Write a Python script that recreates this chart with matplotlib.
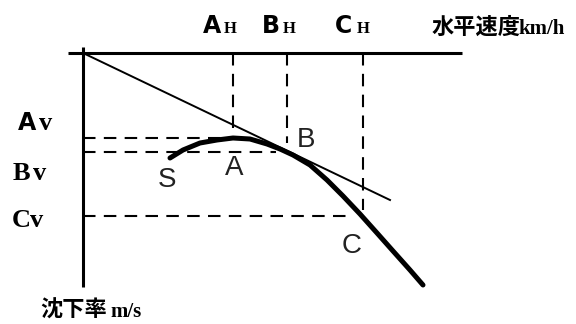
import numpy as np
import matplotlib.pyplot as plt

# polar curve: horizontal speed (km/h) vs sink rate (m/s)
polar_speed = [34.8, 40.0, 46.8, 53.6, 60.0, 66.8, 73.6, 78.8, 84.0, 90.8,
               97.6, 104.0, 110.8, 117.6, 124.0, 130.8, 136.0]
polar_sink = [2.10, 1.94, 1.80, 1.74, 1.70, 1.72, 1.82, 1.92, 2.04, 2.24,
              2.54, 2.86, 3.22, 3.60, 3.96, 4.34, 4.64]

# tangent from the origin
tangent_speed = [0.0, 122.8]
tangent_sink = [0.0, 2.94]

# marked points A, B, C
point_names = ['A', 'B', 'C']
point_speed = [60.0, 81.6, 112.0]
point_sink = [1.70, 1.98, 3.26]
hline_end = [60.0, 77.0, 108.0]      # where the horizontal dashes stop
vline_end = [1.70, 1.80, 3.14]       # where the vertical dashes stop

# axis extents
speed_axis = [-6.0, 151.6]
sink_axis = [-0.12, 4.68]

W, H = 576, 324
fig = plt.figure(figsize=(W / 100, H / 100), dpi=100)
ax = fig.add_axes([0, 0, 1, 1])
ax.set_axis_off()
# pixel mapping: x = 83 + 2.5*speed, y = 53 + 50*sink
ax.set_xlim(-83 / 2.5, (W - 83) / 2.5)
ax.set_ylim((H - 53) / 50, -53 / 50)

# axes
ax.plot(speed_axis, [0, 0], color='black', lw=2.2, solid_capstyle='butt')
ax.plot([0, 0], sink_axis, color='black', lw=2.2, solid_capstyle='butt')

# dashed guides
for s, v, he, ve in zip(point_speed, point_sink, hline_end, vline_end):
    ax.plot([s, s], [0, ve], color='black', lw=1.5, dashes=(6, 4))
    ax.plot([0, he], [v, v], color='black', lw=1.5, dashes=(6, 4))

# tangent line and polar curve
ax.plot(tangent_speed, tangent_sink, color='black', lw=1.4)
ax.plot(polar_speed, polar_sink, color='black', lw=3.6,
        solid_capstyle='round', solid_joinstyle='round')

# letters on the curve
curve_lab = {'S': (167, 180), 'A': (234, 168), 'B': (306, 140), 'C': (352, 246)}
for t, (x, y) in curve_lab.items():
    fig.text(x / W, 1 - y / H, t, fontsize=20, family='Liberation Sans',
             color='#222222', ha='center', va='center')

sans_b = dict(family='DejaVu Sans', fontweight='bold', fontsize=17, color='black')
serif_b = dict(family='Liberation Serif', fontweight='bold', color='black')
cjk_b = dict(family=['Noto Sans CJK JP', 'DejaVu Sans'], fontweight='bold', fontsize=16, color='black')


def put(x, y, s, **kw):
    fig.text(x / W, 1 - y / H, s, va='baseline', ha='left', **kw)


# top labels
put(203, 33, 'A', **sans_b)
put(224, 33, 'H', fontsize=12, **serif_b)
put(262, 33, 'B', **sans_b)
put(283, 33, 'H', fontsize=12, **serif_b)
put(335, 33, 'C', **sans_b)
put(357, 33, 'H', fontsize=12, **serif_b)
put(432, 34, '水平速度', **cjk_b)
put(518, 34, 'km/h', fontsize=15, **serif_b)

# left labels
put(18, 130, 'A', **sans_b)
put(39, 130, 'v', fontsize=19, **serif_b)
put(13, 180, 'B', fontsize=19, **serif_b)
put(33, 180, 'v', fontsize=19, **serif_b)
put(12, 227, 'C', fontsize=19, **serif_b)
put(30, 227, 'v', fontsize=19, **serif_b)
put(40, 317, '沈下率', **cjk_b)
put(110, 317, 'm/s', fontsize=15, **serif_b)

fig.savefig('out.png', dpi=100)
